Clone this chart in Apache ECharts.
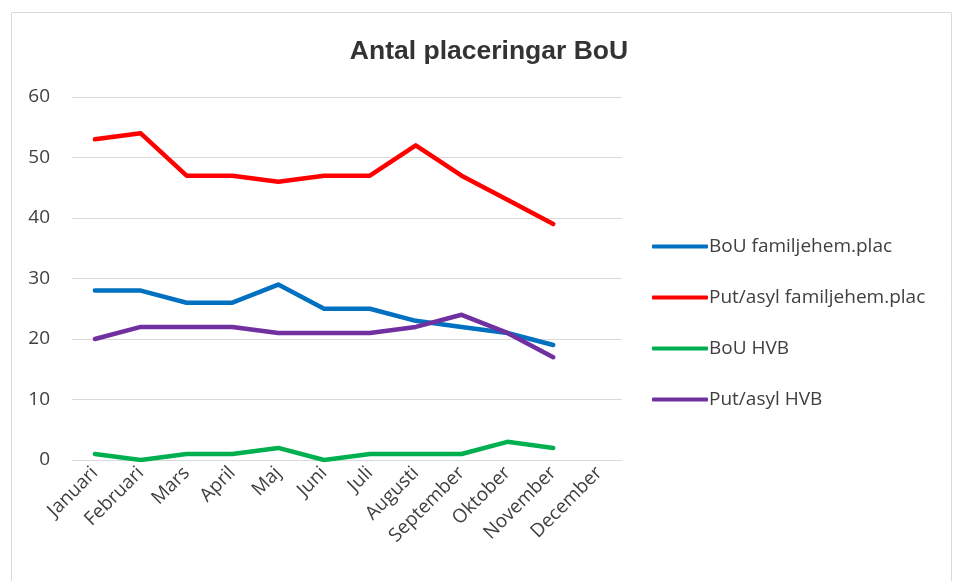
<!DOCTYPE html>
<html>
<head>
<meta charset="utf-8">
<script src="https://cdn.jsdelivr.net/npm/echarts@6/dist/echarts.min.js"></script>
<style>
  html, body { margin: 0; padding: 0; background: #fff; }
  #main { width: 955px; height: 581px; }
</style>
</head>
<body>
<div id="main"></div>
<script>
  var months = ['Januari', 'Februari', 'Mars', 'April', 'Maj', 'Juni', 'Juli', 'Augusti', 'September', 'Oktober', 'November', 'December']
  var bouFamilj = [28, 28, 26, 26, 29, 25, 25, 23, 22, 21, 19, null]
  var putFamilj = [53, 54, 47, 47, 46, 47, 47, 52, 47, 43, 39, null]
  var bouHvb = [1, 0, 1, 1, 2, 0, 1, 1, 1, 3, 2, null]
  var putHvb = [20, 22, 22, 22, 21, 21, 21, 22, 24, 21, 17, null]

  var myChart = echarts.init(document.getElementById('main'))

  function line (name, data, color) {
    return {
      name: name,
      type: 'line',
      data: data,
      symbol: 'none',
      lineStyle: { width: 4.5, color: color, cap: 'round', join: 'round' },
      itemStyle: { color: color }
    }
  }

  var option = {
    backgroundColor: '#fff',
    title: {
      text: 'Antal placeringar BoU',
      left: 484,
      top: 33,
      textAlign: 'center',
      textStyle: { fontFamily: 'Liberation Sans', fontSize: 26.5, fontWeight: 'bold', color: '#333' }
    },
    graphic: [{
      type: 'rect',
      shape: { x: 11.5, y: 12.5, width: 940, height: 600 },
      style: { fill: 'none', stroke: '#d9d9d9', lineWidth: 1 },
      silent: true
    }],
    legend: {
      orient: 'vertical',
      left: 647,
      top: 232,
      itemWidth: 56,
      itemHeight: 4,
      itemGap: 32,
      icon: 'roundRect',
      textStyle: { fontFamily: 'Open Sans', fontSize: 19, color: '#404040', padding: [0, 0, 0, -4] },
      data: ['BoU familjehem.plac', 'Put/asyl familjehem.plac', 'BoU HVB', 'Put/asyl HVB']
    },
    grid: { left: 72, right: 333, top: 97, bottom: 121 },
    xAxis: {
      type: 'category',
      data: months,
      boundaryGap: true,
      axisLine: { lineStyle: { color: '#d9d9d9', width: 1 } },
      axisTick: { show: false },
      axisLabel: {
        rotate: 45,
        interval: 0,
        margin: 10,
        fontFamily: 'Open Sans',
        fontSize: 19,
        color: '#404040'
      }
    },
    yAxis: {
      type: 'value',
      min: 0,
      max: 60,
      interval: 10,
      axisLine: { show: false },
      axisTick: { show: false },
      splitLine: { lineStyle: { color: '#d9d9d9', width: 1 } },
      axisLabel: { margin: 22, fontFamily: 'Open Sans', fontSize: 19, color: '#404040' }
    },
    series: [
      line('BoU familjehem.plac', bouFamilj, '#0070C0'),
      line('Put/asyl familjehem.plac', putFamilj, '#FF0000'),
      line('BoU HVB', bouHvb, '#00B050'),
      line('Put/asyl HVB', putHvb, '#7030A0')
    ]
  }
  myChart.setOption(option)
</script>
</body>
</html>
